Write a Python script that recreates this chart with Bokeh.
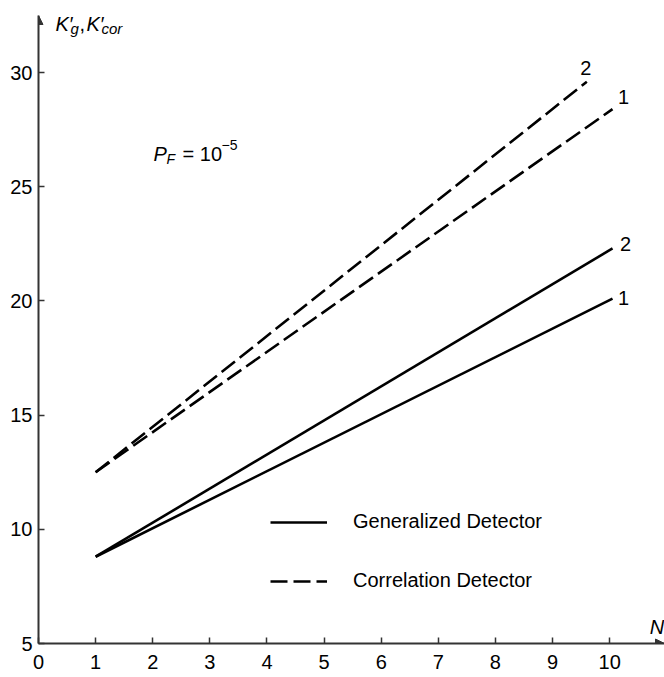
from bokeh.plotting import figure
from bokeh.models import (Range1d, FixedTicker, Arrow, NormalHead, Label, Legend,
                          LegendItem, ColumnDataSource)
from bokeh.embed import file_html
from bokeh.resources import INLINE
from bokeh.core.properties import value

# ---- data ----
gen_n = [1, 10.05]
gen1_k = [8.8, 20.1]
gen2_k = [8.8, 22.3]
cor1_n = [1, 10.05]
cor1_k = [12.5, 28.4]
cor2_n = [1, 9.6]
cor2_k = [12.5, 29.6]
curve_labels = ["2", "1", "2", "1"]
x_ticks = [0, 1, 2, 3, 4, 5, 6, 7, 8, 9, 10]
y_ticks = [5, 10, 15, 20, 25, 30]

X_MAX = 10.96
Y_MIN, Y_MAX = 5, 32.5
FONT = "Liberation Sans"
AX = "#333333"

p = figure(width=664, height=677, x_range=Range1d(0, X_MAX), y_range=Range1d(Y_MIN, Y_MAX),
           output_backend="svg", toolbar_location=None,
           min_border_left=38, min_border_right=0, min_border_top=15, min_border_bottom=34)
p.grid.visible = False
p.outline_line_color = None
p.background_fill_color = "white"
p.border_fill_color = "white"

for ax, ticks in ((p.xaxis, x_ticks), (p.yaxis, y_ticks)):
    ax.ticker = FixedTicker(ticks=ticks)
    ax.axis_line_color = AX
    ax.axis_line_width = 2
    ax.major_tick_in = 6
    ax.major_tick_out = 0
    ax.major_tick_line_color = AX
    ax.major_tick_line_width = 1.5
    ax.minor_tick_line_color = None
    ax.major_label_text_font = FONT
    ax.major_label_text_font_size = "20px"
    ax.major_label_text_color = "black"
p.xaxis.major_label_standoff = 11
p.yaxis.major_label_standoff = 6

# ---- curves ----
r_g1 = p.line(gen_n, gen1_k, line_color="black", line_width=2.6)
r_g2 = p.line(gen_n, gen2_k, line_color="black", line_width=2.6)
r_c1 = p.line(cor1_n, cor1_k, line_color="black", line_width=2.6, line_dash="17 6")
r_c2 = p.line(cor2_n, cor2_k, line_color="black", line_width=2.6, line_dash="17 6")

end_src = ColumnDataSource(dict(
    x=[cor2_n[-1], cor1_n[-1], gen_n[-1], gen_n[-1]],
    y=[cor2_k[-1], cor1_k[-1], gen2_k[-1], gen1_k[-1]],
    t=curve_labels,
    dx=[-1, 11, 13, 11],
    dy=[-14, -12, -4, -1],
))
p.text(x="x", y="y", text="t", x_offset="dx", y_offset="dy", source=end_src,
       text_font=value(FONT), text_font_size="20px", text_align="center",
       text_baseline="middle", text_color="black")

# ---- axis arrows ----
head = dict(size=9, fill_color=AX, line_color=AX)
p.add_layout(Arrow(x_start=X_MAX - 0.3, y_start=Y_MIN, x_end=X_MAX, y_end=Y_MIN,
                   line_alpha=0, end=NormalHead(**head)))
p.add_layout(Arrow(x_start=0, y_start=Y_MAX - 1, x_end=0, y_end=Y_MAX,
                   line_alpha=0, end=NormalHead(**head)))


def dx(px):
    return (px - 38) / 57.1


def dy(py):
    return 5 + (643 - py) / 22.84


def lab(px, py, t, size, italic=False):
    p.add_layout(Label(x=dx(px), y=dy(py - 7), text=t, text_font=FONT,
                       text_font_size=f"{size}px",
                       text_font_style="italic" if italic else "normal",
                       text_baseline="alphabetic", text_color="black"))


# y-axis title  K'_g, K'_cor
lab(55, 30, "K′", 20, True)
lab(70, 35, "g", 15, True)
lab(79, 30, ",", 20)
lab(86, 30, "K′", 20, True)
lab(101, 35, "cor", 15, True)
# x-axis title
lab(649, 633, "N", 20, True)
# P_F = 10^-5
lab(153, 160, "P", 20, True)
lab(166, 165, "F", 14, True)
lab(182, 160, "= 10", 20)
lab(221, 151, "−5", 14)

# ---- legend ----
legend = Legend(items=[LegendItem(label="Generalized Detector", renderers=[r_g1]),
                       LegendItem(label="Correlation Detector", renderers=[r_c1])],
                location=(232, 51), glyph_width=57, glyph_height=20, label_height=20,
                label_standoff=26, spacing=36, padding=0, margin=0,
                border_line_color=None, background_fill_alpha=0,
                label_text_font=FONT, label_text_font_size="20px",
                label_text_color="black")
p.add_layout(legend)

open("out.html", "w").write(file_html(p, INLINE))
